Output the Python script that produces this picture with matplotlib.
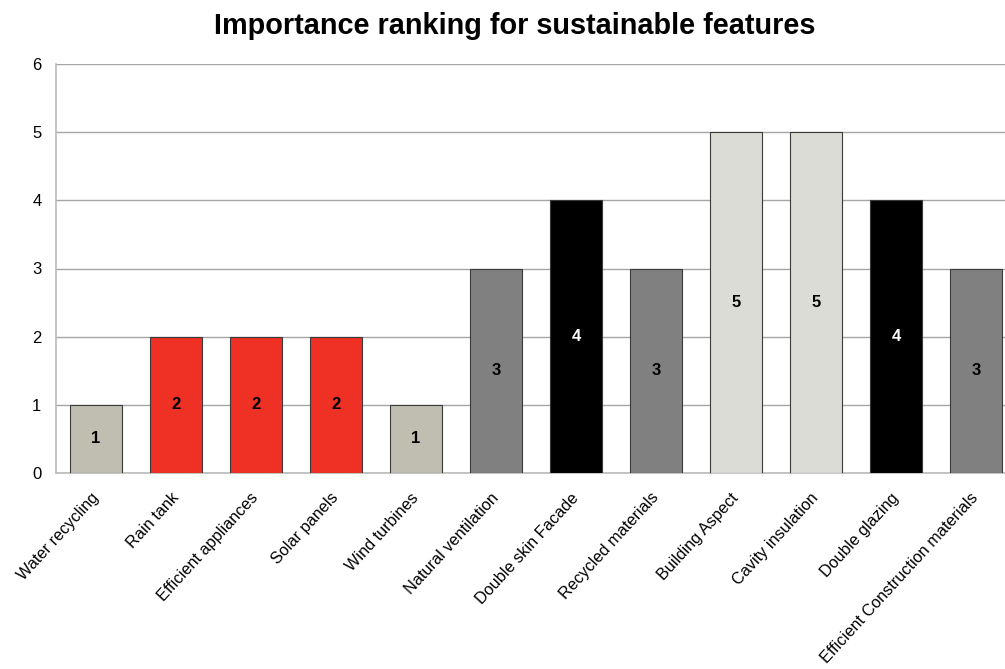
import matplotlib
matplotlib.use("Agg")
import matplotlib.pyplot as plt

features = [
    "Water recycling", "Rain tank", "Efficient appliances", "Solar panels",
    "Wind turbines", "Natural ventilation", "Double skin Facade",
    "Recycled materials", "Building Aspect", "Cavity insulation",
    "Double glazing", "Efficient Construction materials",
]
ranking = [1, 2, 2, 2, 1, 3, 4, 3, 5, 5, 4, 3]

# colour per rank level
rank_colors = {1: "#BFBEB1", 2: "#EE3124", 3: "#808080", 4: "#000000", 5: "#DCDCD6"}
label_colors = {1: "black", 2: "black", 3: "black", 4: "white", 5: "black"}

plt.rcParams["font.family"] = ["Liberation Sans", "DejaVu Sans"]

fig = plt.figure(figsize=(10.05, 6.69), dpi=100)
ax = fig.add_axes([56 / 1005, 1 - 473 / 669, 960 / 1005, 409 / 669])

x = list(range(len(features)))
ax.bar(x, ranking, width=0.65,
       color=[rank_colors[v] for v in ranking],
       edgecolor="#3a3a3a", linewidth=0.8, zorder=3)

for xi, v in zip(x, ranking):
    ax.text(xi, v / 2, str(v), ha="center", va="center",
            fontsize=12, fontweight="bold", color=label_colors[v], zorder=4)

ax.set_xlim(-0.5, len(features) - 0.5)
ax.set_ylim(0, 6)
ax.set_yticks(range(0, 7))
ax.yaxis.grid(True, color="#A6A6A6", linewidth=1.0, zorder=0)
ax.set_axisbelow(True)
for side in ("top", "right"):
    ax.spines[side].set_visible(False)
for side in ("left", "bottom"):
    ax.spines[side].set_color("#BBBBBB")
    ax.spines[side].set_linewidth(1.2)
ax.tick_params(axis="y", length=0, pad=10.5, labelsize=12)
ax.tick_params(axis="x", length=0, pad=16, labelsize=11.7)
ax.set_xticks(x)
ax.set_xticklabels(features, rotation=47.5, ha="right", va="center",
                   rotation_mode="anchor")

fig.text(515 / 1005, 1 - 26 / 669, "Importance ranking for sustainable features",
         ha="center", va="center", fontsize=20.8, fontweight="bold")

fig.savefig("out.png", dpi=100)
